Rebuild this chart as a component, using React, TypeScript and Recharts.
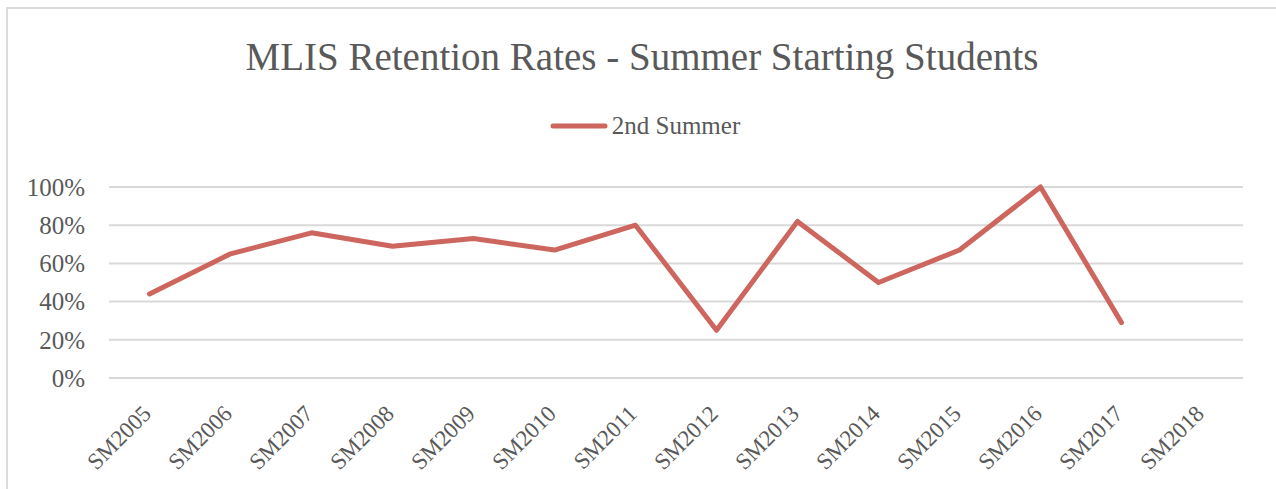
import React from "react";
import { LineChart, Line, XAxis, YAxis, CartesianGrid, Legend } from "recharts";

const categories = [
  "SM2005", "SM2006", "SM2007", "SM2008", "SM2009", "SM2010", "SM2011",
  "SM2012", "SM2013", "SM2014", "SM2015", "SM2016", "SM2017", "SM2018",
];
const secondSummer: (number | null)[] = [
  0.44, 0.65, 0.76, 0.69, 0.73, 0.67, 0.8, 0.25, 0.82, 0.5, 0.67, 1.0, 0.29, null,
];
const yTicks = [0, 0.2, 0.4, 0.6, 0.8, 1.0];
const seriesName = "2nd Summer";
const title = "MLIS Retention Rates - Summer Starting Students";

const data = categories.map((c, i) => ({ cat: c, v: secondSummer[i] }));

const FONT = "'Liberation Serif', 'Times New Roman', serif";
const TEXT = "#595959";
const LINE = "#cd665e";

const XTick = (props: any) => {
  const { x, y, payload } = props;
  return (
    <g transform={`translate(${x + 3}, ${y + 29})`}>
      <text
        x={0}
        y={0}
        transform="rotate(-45)"
        textAnchor="end"
        fill={TEXT}
        fontSize={23}
        fontFamily={FONT}
      >
        {payload.value}
      </text>
    </g>
  );
};

const LegendContent = () => (
  <div
    style={{
      display: "flex",
      alignItems: "center",
      justifyContent: "center",
      fontFamily: FONT,
      fontSize: 25,
      color: TEXT,
    }}
  >
    <svg width={58} height={10} style={{ marginRight: 4 }}>
      <line x1={3} y1={5} x2={55} y2={5} stroke={LINE} strokeWidth={5} strokeLinecap="round" />
    </svg>
    <span>{seriesName}</span>
  </div>
);

export default function App() {
  return (
    <div style={{ position: "absolute", left: 0, top: 0, width: 1276, height: 489, background: "#fff", overflow: "hidden" }}>
      <div
        style={{
          position: "absolute",
          left: 6,
          top: 7,
          width: 1276,
          height: 489,
          borderLeft: "2px solid #dcdcdc",
          borderTop: "2px solid #dcdcdc",
        }}
      />
      <div
        style={{
          position: "absolute",
          left: 0,
          top: 34,
          width: 1284,
          textAlign: "center",
          fontFamily: FONT,
          fontSize: 39,
          color: TEXT,
          lineHeight: "46px",
          whiteSpace: "nowrap",
        }}
      >
        {title}
      </div>
      <LineChart
        width={1276}
        height={489}
        data={data}
        margin={{ top: 159, right: 33, bottom: 11, left: 0 }}
        style={{ position: "absolute", left: 0, top: 0 }}
      >
        <CartesianGrid vertical={false} stroke="#d9d9d9" strokeWidth={2} />
        <XAxis
          dataKey="cat"
          axisLine={false}
          tickLine={false}
          interval={0}
          height={100}
          padding={{ left: 40.5, right: 40.5 }}
          tick={<XTick />}
        />
        <YAxis
          domain={[0, 1]}
          ticks={yTicks}
          interval={0}
          width={109}
          axisLine={false}
          tickLine={false}
          tickMargin={18}
          tickFormatter={(v: number) => `${Math.round(v * 100)}%`}
          tick={{ fill: TEXT, fontSize: 25, fontFamily: FONT }}
        />
        <Legend
          verticalAlign="top"
          content={<LegendContent />}
          wrapperStyle={{ position: "absolute", top: 112, left: 0, width: 1290 }}
        />
        <Line
          type="linear"
          dataKey="v"
          name={seriesName}
          stroke={LINE}
          strokeWidth={5}
          strokeLinejoin="round"
          strokeLinecap="round"
          dot={false}
          activeDot={false}
          isAnimationActive={false}
        />
      </LineChart>
    </div>
  );
}
